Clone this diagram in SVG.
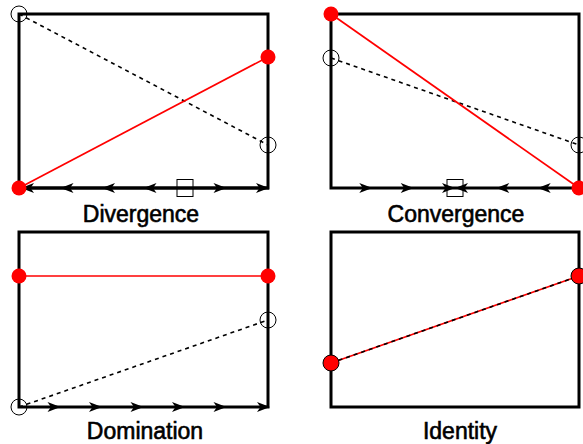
<svg xmlns="http://www.w3.org/2000/svg" width="583" height="444" viewBox="0 0 583 444">
<style>
.frame{fill:none;stroke:#000;stroke-width:3}
.axis{stroke:#000;stroke-width:3}
.red{stroke:#f00;stroke-width:1.7;fill:none}
.dash{stroke:#000;stroke-width:1.6;stroke-dasharray:4 4;fill:none}
.open{fill:none;stroke:#000;stroke-width:1}
.dot{fill:#f00;stroke:none}
.dotb{fill:#f00;stroke:#000;stroke-width:1}
.sq{fill:none;stroke:#000;stroke-width:1}
.lbl{font-family:"Liberation Sans",Arial,sans-serif;font-size:23px;fill:#000;stroke:#000;stroke-width:0.6;text-anchor:middle}
</style>
<defs>
<path id="ar" d="M0,0 L-13,-5 L-9.5,0 L-13,5 Z" fill="#000"/>
</defs>
<rect width="583" height="444" fill="#fff"/>

<g id="divergence">
<rect class="frame" x="19" y="14" width="249" height="174"/>
<line class="axis" x1="19" y1="188" x2="269" y2="188"/>
<g id="div-arrows">
<use href="#ar" transform="translate(21,188) rotate(180)"/>
<use href="#ar" transform="translate(60.5,188) rotate(180)"/>
<use href="#ar" transform="translate(102,188) rotate(180)"/>
<use href="#ar" transform="translate(143.5,188) rotate(180)"/>
<use href="#ar" transform="translate(226.5,188)"/>
<use href="#ar" transform="translate(269,188)"/>
</g>
<rect class="sq" x="177" y="179.5" width="16" height="17"/>
<line class="dash" x1="19" y1="14" x2="268" y2="145"/>
<line class="red" x1="19" y1="188" x2="268" y2="57"/>
<circle class="open" cx="19" cy="14" r="8"/>
<circle class="open" cx="268" cy="145" r="8"/>
<circle class="dot" cx="268" cy="57" r="7.5"/>
<circle class="dot" cx="19" cy="188" r="7.5"/>
<text class="lbl" x="141" y="222">Divergence</text>
</g>

<g id="convergence">
<rect class="frame" x="331" y="14" width="248" height="174"/>
<g id="conv-arrows">
<use href="#ar" transform="translate(372.3,188)"/>
<use href="#ar" transform="translate(413.7,188)"/>
<use href="#ar" transform="translate(455,188)"/>
<use href="#ar" transform="translate(455,188) rotate(180)"/>
<use href="#ar" transform="translate(496.3,188) rotate(180)"/>
<use href="#ar" transform="translate(537.7,188) rotate(180)"/>
</g>
<rect class="sq" x="447" y="179.5" width="16" height="17"/>
<line class="dash" x1="331" y1="58" x2="579" y2="145"/>
<line class="red" x1="331" y1="14" x2="579" y2="188"/>
<circle class="open" cx="331" cy="58" r="8"/>
<circle class="open" cx="579" cy="145" r="8"/>
<circle class="dot" cx="331" cy="14" r="7.5"/>
<circle class="dot" cx="579" cy="188" r="7.5"/>
<text class="lbl" x="456" y="222">Convergence</text>
</g>

<g id="domination">
<rect class="frame" x="19" y="232" width="249" height="175"/>
<g id="dom-arrows">
<use href="#ar" transform="translate(60.5,407)"/>
<use href="#ar" transform="translate(102,407)"/>
<use href="#ar" transform="translate(143.5,407)"/>
<use href="#ar" transform="translate(185,407)"/>
<use href="#ar" transform="translate(226.5,407)"/>
<use href="#ar" transform="translate(270,407)"/>
</g>
<line class="dash" x1="19" y1="407" x2="268" y2="320"/>
<line class="red" x1="19" y1="276" x2="268" y2="276"/>
<circle class="open" cx="19" cy="407" r="8"/>
<circle class="open" cx="268" cy="320" r="8"/>
<circle class="dot" cx="19" cy="276" r="7.5"/>
<circle class="dot" cx="268" cy="276" r="7.5"/>
<text class="lbl" x="145" y="439">Domination</text>
</g>

<g id="identity">
<rect class="frame" x="331" y="232" width="248" height="175"/>
<line class="red" x1="331" y1="363" x2="579" y2="276" stroke-width="2"/>
<line class="dash" x1="331" y1="363" x2="579" y2="276" stroke-width="1.2"/>
<circle class="dotb" cx="331" cy="363" r="8"/>
<circle class="dotb" cx="579" cy="276" r="8"/>
<text class="lbl" x="460" y="439">Identity</text>
</g>
</svg>
